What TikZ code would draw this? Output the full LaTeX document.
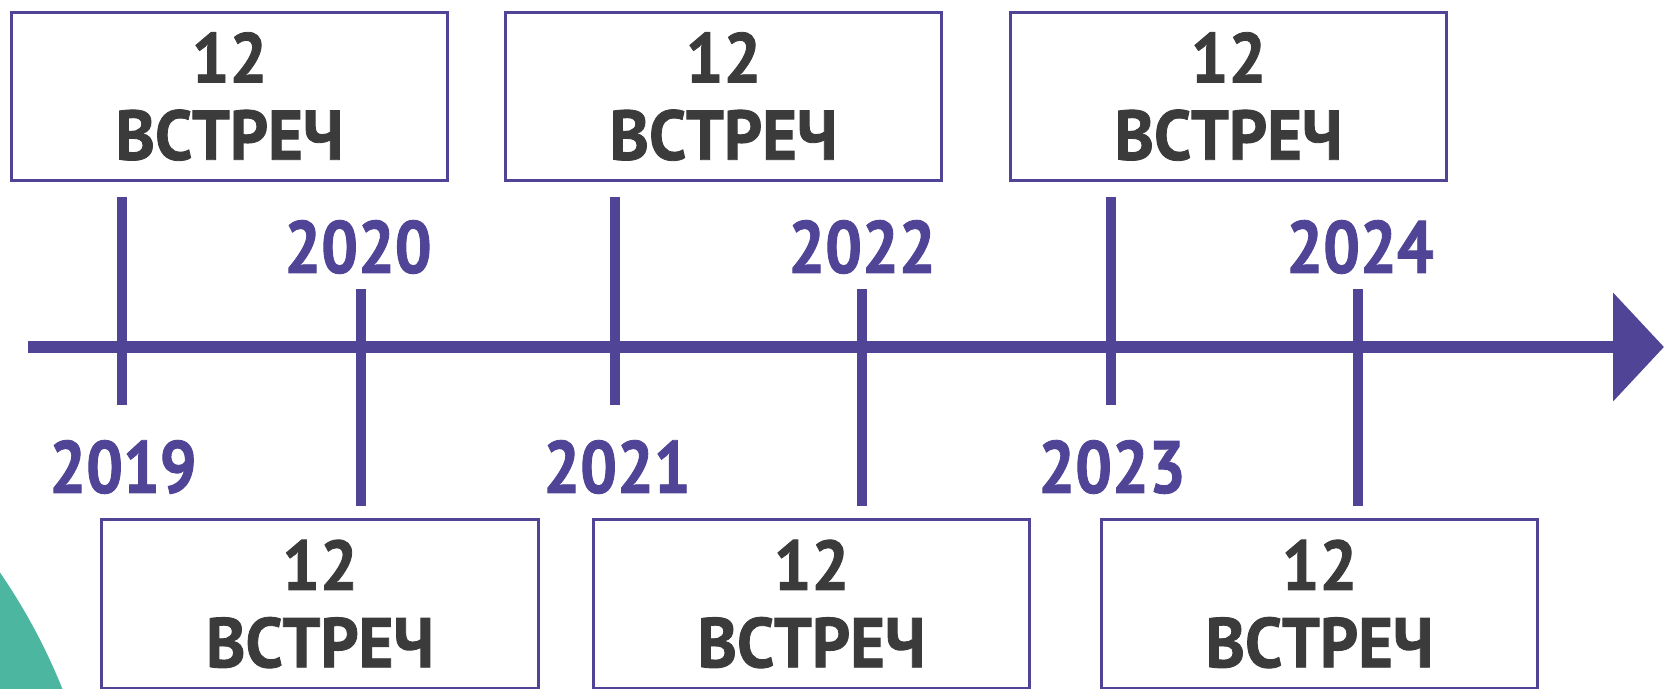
\documentclass[tikz,border=0pt]{standalone}
\usepackage{fontspec}
\newfontfamily\dinfont[FakeStretch=0.95, BoldFeatures={FakeBold=1.2}]{PT Sans}
\newfontfamily\dinyear[FakeStretch=0.88, BoldFeatures={FakeBold=1.2}]{PT Sans}
\usepackage{tikz}
\usetikzlibrary{arrows.meta,positioning}
\definecolor{tlpurple}{RGB}{79,68,150}
\definecolor{tldark}{RGB}{59,59,59}
\definecolor{tlteal}{RGB}{77,182,160}
\tikzstyle{Box} = [rectangle, draw=tlpurple, line width=0.06cm, minimum width=8.74cm, minimum height=3.38cm, inner sep=0pt, align=center, text=tldark, font=\dinfont\bfseries\fontsize{40}{44}\selectfont]
\tikzstyle{Year} = [text=tlpurple, inner sep=0pt, font=\dinyear\bfseries\fontsize{42}{42}\selectfont]
\tikzstyle{Tick} = [draw=tlpurple, line width=0.2cm]
\tikzstyle{arrow} = [draw=tlpurple, line width=0.26cm, -{Triangle[length=1.02cm,width=2.12cm]}]

\begin{document}
\begin{tikzpicture}[x=0.02cm, y=-0.02cm]
\useasboundingbox (0,0) rectangle (1664,689);

% decoration in the corner
\fill[tlteal] (-500,915) circle (606);

% boxes
\node (Box 2019)[Box] at (229.5,96.5) {12\\ВСТРЕЧ};
\node (Box 2021)[Box] at (723.5,96.5) {12\\ВСТРЕЧ};
\node (Box 2023)[Box] at (1228.5,96.5) {12\\ВСТРЕЧ};
\node (Box 2020)[Box] at (320,604) {12\\ВСТРЕЧ};
\node (Box 2022)[Box] at (811.5,604) {12\\ВСТРЕЧ};
\node (Box 2024)[Box] at (1319.5,604) {12\\ВСТРЕЧ};

% years
\node (2019)[Year] at (123,467) {2019};
\node (2020)[Year] at (358,247) {2020};
\node (2021)[Year] at (617,467) {2021};
\node (2022)[Year] at (862,247) {2022};
\node (2023)[Year] at (1112,467) {2023};
\node (2024)[Year] at (1360,247) {2024};

% axis
\coordinate (Start) at (28,347);
\coordinate (End) at (1664,347);
\draw[arrow](Start)--(End);

% ticks
\coordinate (T2019 top) at (122,197);
\coordinate (T2019 bottom) at (122,405);
\coordinate (T2020 top) at (361,289);
\coordinate (T2020 bottom) at (361,506);
\coordinate (T2021 top) at (615,197);
\coordinate (T2021 bottom) at (615,405);
\coordinate (T2022 top) at (862,289);
\coordinate (T2022 bottom) at (862,506);
\coordinate (T2023 top) at (1111,197);
\coordinate (T2023 bottom) at (1111,405);
\coordinate (T2024 top) at (1358,289);
\coordinate (T2024 bottom) at (1358,506);
\draw[Tick](T2019 top)--(T2019 bottom);
\draw[Tick](T2020 top)--(T2020 bottom);
\draw[Tick](T2021 top)--(T2021 bottom);
\draw[Tick](T2022 top)--(T2022 bottom);
\draw[Tick](T2023 top)--(T2023 bottom);
\draw[Tick](T2024 top)--(T2024 bottom);

\end{tikzpicture}
\end{document}
